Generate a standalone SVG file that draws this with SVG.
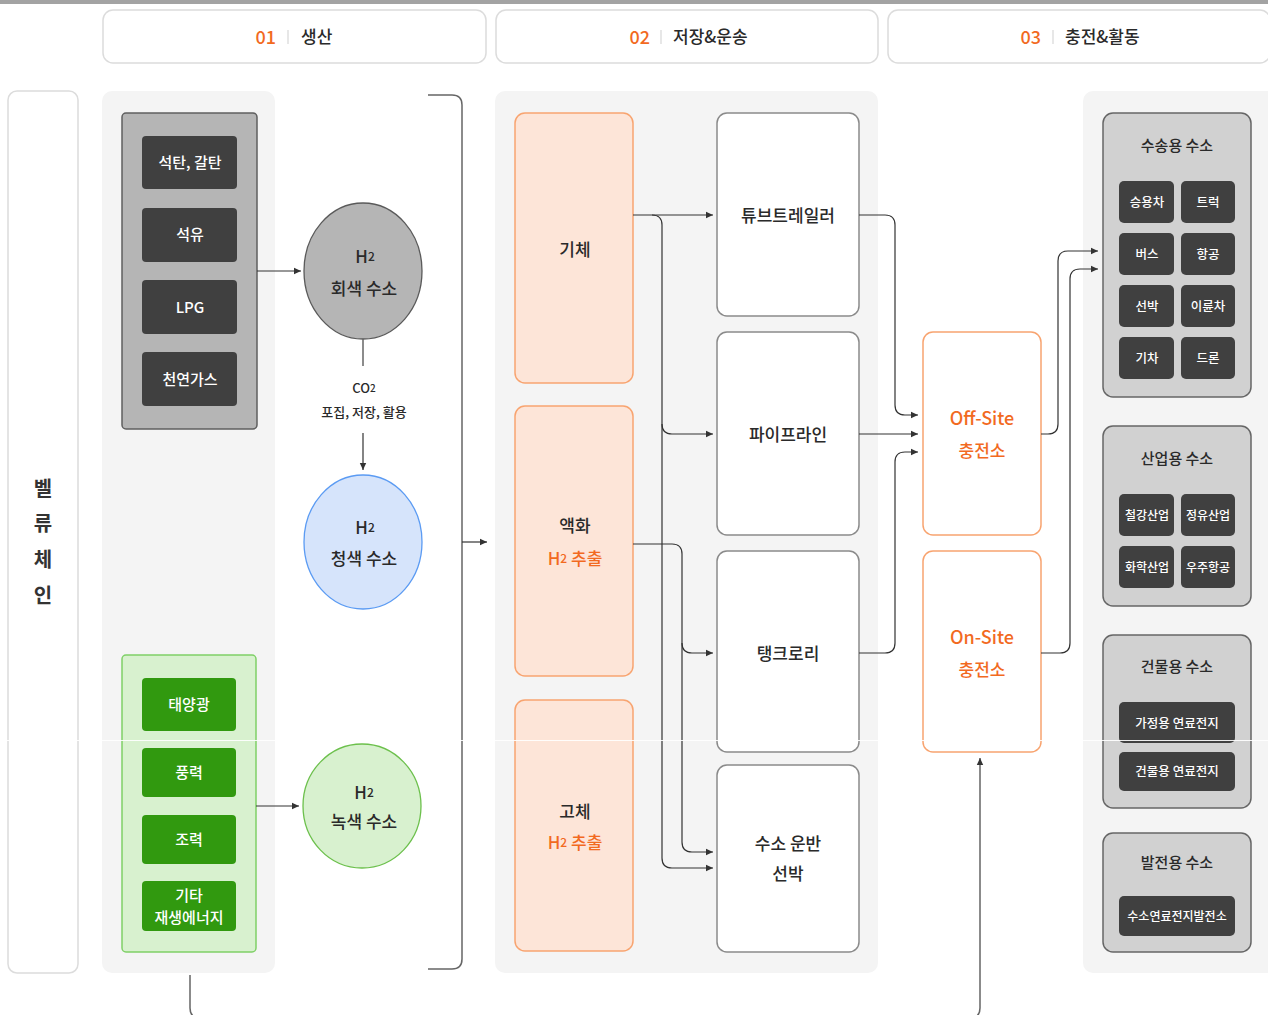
<svg xmlns="http://www.w3.org/2000/svg" width="1268" height="1015" viewBox="0 0 1268 1015">
<defs>
<marker id="ah" markerUnits="userSpaceOnUse" markerWidth="8" markerHeight="8" refX="7" refY="4" orient="auto">
<path d="M0,0.8 L7,4 L0,7.2 z" fill="#333"/>
</marker>
<style>
text{font-family:"Noto Sans CJK KR","Noto Sans",sans-serif;dominant-baseline:central;text-anchor:middle;fill:#2a2a2a;font-weight:500}
.hdr{fill:#fff;stroke:#dcdcdc;stroke-width:1.5}
.panel{fill:#f4f4f4}
.num{fill:#f26a1f;font-size:18px;font-weight:500}
.ht{font-size:17px}
.sep{stroke:#cfcfcf;stroke-width:1}
.fossil{fill:#b5b5b5;stroke:#5f5f5f;stroke-width:1.5}
.dark{fill:#404040}
.wt{fill:#fff;font-size:15px}
.grn{fill:#d8f1cf;stroke:#7fd067;stroke-width:1.5}
.gbox{fill:#31990f}
.org{fill:#fde5d8;stroke:#f8a470;stroke-width:1.5}
.wbox{fill:#fff;stroke:#8a8a8a;stroke-width:1.5}
.site{fill:#fff;stroke:#f8a470;stroke-width:1.5}
.ot{fill:#f26a1f}
.nt{font-size:17px}
.use{fill:#d1d1d1;stroke:#666;stroke-width:1.5}
.st{font-size:12.5px;fill:#fff}
.conn{fill:none;stroke:#333;stroke-width:1.2}
.conn2{fill:none;stroke:#666;stroke-width:1.5}
</style>
</defs>
<rect x="0" y="0" width="1268" height="1015" fill="#fff"/>
<rect x="0" y="0" width="1268" height="4" fill="#a3a3a3"/>

<g id="header-01">
<rect class="hdr" x="103" y="10" width="383" height="53" rx="10"/>
<text class="num" x="276" y="36" style="text-anchor:end">01</text>
<line class="sep" x1="288" y1="30" x2="288" y2="44"/>
<text class="ht" x="301" y="35" style="text-anchor:start">생산</text>
</g>
<g id="header-02">
<rect class="hdr" x="496" y="10" width="382" height="53" rx="10"/>
<text class="num" x="650" y="36" style="text-anchor:end">02</text>
<line class="sep" x1="661" y1="30" x2="661" y2="44"/>
<text class="ht" x="673" y="35" style="text-anchor:start">저장&amp;운송</text>
</g>
<g id="header-03">
<rect class="hdr" x="888" y="10" width="382" height="53" rx="10"/>
<text class="num" x="1041" y="36" style="text-anchor:end">03</text>
<line class="sep" x1="1053" y1="30" x2="1053" y2="44"/>
<text class="ht" x="1065" y="35" style="text-anchor:start">충전&amp;활동</text>
</g>

<g id="valuechain">
<rect class="hdr" x="8" y="91" width="70" height="882" rx="9"/>
<text x="43" y="487" style="font-size:20px;font-weight:bold;fill:#333">벨</text>
<text x="43" y="522" style="font-size:20px;font-weight:bold;fill:#333">류</text>
<text x="43" y="558" style="font-size:20px;font-weight:bold;fill:#333">체</text>
<text x="43" y="594" style="font-size:20px;font-weight:bold;fill:#333">인</text>
</g>

<rect class="panel" x="102" y="91" width="173" height="882" rx="10"/>
<rect class="panel" x="495" y="91" width="383" height="882" rx="10"/>
<rect class="panel" x="1083" y="91" width="195" height="882" rx="10"/>

<g id="fossil">
<rect class="fossil" x="122" y="113" width="135" height="316" rx="4"/>
<rect class="dark" x="142" y="136" width="95" height="53" rx="4"/>
<text class="wt" x="190" y="161">석탄, 갈탄</text>
<rect class="dark" x="142" y="208" width="95" height="54" rx="4"/>
<text class="wt" x="190" y="233">석유</text>
<rect class="dark" x="142" y="280" width="95" height="54" rx="4"/>
<text class="wt" x="190" y="306">LPG</text>
<rect class="dark" x="142" y="352" width="95" height="54" rx="4"/>
<text class="wt" x="190" y="378">천연가스</text>
</g>

<g id="renewable">
<rect class="grn" x="122" y="655" width="134" height="297" rx="4"/>
<rect class="gbox" x="142" y="678" width="94" height="53" rx="4"/>
<text class="wt" x="189" y="703">태양광</text>
<rect class="gbox" x="142" y="748" width="94" height="49" rx="4"/>
<text class="wt" x="189" y="771">풍력</text>
<rect class="gbox" x="142" y="815" width="94" height="49" rx="4"/>
<text class="wt" x="189" y="838">조력</text>
<rect class="gbox" x="142" y="881" width="94" height="50" rx="4"/>
<text class="wt" x="189" y="894">기타</text>
<text class="wt" x="189" y="916">재생에너지</text>
</g>

<g id="gray-h2">
<ellipse cx="363" cy="271" rx="59" ry="68" fill="#b5b5b5" stroke="#5a5a5a" stroke-width="1.3"/>
<text class="nt" x="365" y="255">H<tspan style="font-size:12px">2</tspan></text>
<text class="nt" x="364" y="287">회색 수소</text>
</g>
<g id="co2">
<text x="364" y="387" style="font-size:13px">CO<tspan style="font-size:10px">2</tspan></text>
<text x="364" y="411" style="font-size:13px">포집, 저장, 활용</text>
</g>
<g id="blue-h2">
<ellipse cx="363" cy="542" rx="59" ry="67" fill="#d6e4fb" stroke="#5b9bf3" stroke-width="1.3"/>
<text class="nt" x="365" y="526">H<tspan style="font-size:12px">2</tspan></text>
<text class="nt" x="364" y="557">청색 수소</text>
</g>
<g id="green-h2">
<ellipse cx="362" cy="806" rx="59" ry="62" fill="#d8f1cf" stroke="#6cc04c" stroke-width="1.3"/>
<text class="nt" x="364" y="791">H<tspan style="font-size:12px">2</tspan></text>
<text class="nt" x="364" y="820">녹색 수소</text>
</g>

<g id="gas">
<rect class="org" x="515" y="113" width="118" height="270" rx="10"/>
<text class="nt" x="575" y="248">기체</text>
</g>
<g id="liquid">
<rect class="org" x="515" y="406" width="118" height="270" rx="10"/>
<text class="nt" x="575" y="524">액화</text>
<text class="nt ot" x="575" y="557">H<tspan style="font-size:12px">2</tspan> 추출</text>
</g>
<g id="solid">
<rect class="org" x="515" y="700" width="118" height="251" rx="10"/>
<text class="nt" x="575" y="810">고체</text>
<text class="nt ot" x="575" y="841">H<tspan style="font-size:12px">2</tspan> 추출</text>
</g>

<g id="tube-trailer">
<rect class="wbox" x="717" y="113" width="142" height="203" rx="10"/>
<text class="nt" x="788" y="214">튜브트레일러</text>
</g>
<g id="pipeline">
<rect class="wbox" x="717" y="332" width="142" height="203" rx="10"/>
<text class="nt" x="788" y="433">파이프라인</text>
</g>
<g id="tank-lorry">
<rect class="wbox" x="717" y="551" width="142" height="201" rx="10"/>
<text class="nt" x="788" y="652">탱크로리</text>
</g>
<g id="ship">
<rect class="wbox" x="717" y="765" width="142" height="187" rx="10"/>
<text class="nt" x="788" y="842">수소 운반</text>
<text class="nt" x="788" y="872">선박</text>
</g>

<g id="offsite">
<rect class="site" x="923" y="332" width="118" height="203" rx="10"/>
<text class="ot" x="982" y="417" style="font-size:18px">Off-Site</text>
<text class="ot" x="982" y="449" style="font-size:17px">충전소</text>
</g>
<g id="onsite">
<rect class="site" x="923" y="551" width="118" height="201" rx="10"/>
<text class="ot" x="982" y="636" style="font-size:18px">On-Site</text>
<text class="ot" x="982" y="668" style="font-size:17px">충전소</text>
</g>

<g id="transport-use">
<rect class="use" x="1103" y="113" width="148" height="284" rx="10"/>
<text x="1177" y="144" style="font-size:15px">수송용 수소</text>
<rect class="dark" x="1119" y="181" width="55" height="42" rx="5"/><text class="st" x="1147" y="201">승용차</text>
<rect class="dark" x="1181" y="181" width="54" height="42" rx="5"/><text class="st" x="1208" y="201">트럭</text>
<rect class="dark" x="1119" y="233" width="55" height="42" rx="5"/><text class="st" x="1147" y="253">버스</text>
<rect class="dark" x="1181" y="233" width="54" height="42" rx="5"/><text class="st" x="1208" y="253">항공</text>
<rect class="dark" x="1119" y="285" width="55" height="42" rx="5"/><text class="st" x="1147" y="305">선박</text>
<rect class="dark" x="1181" y="285" width="54" height="42" rx="5"/><text class="st" x="1208" y="305">이륜차</text>
<rect class="dark" x="1119" y="337" width="55" height="42" rx="5"/><text class="st" x="1147" y="357">기차</text>
<rect class="dark" x="1181" y="337" width="54" height="42" rx="5"/><text class="st" x="1208" y="357">드론</text>
</g>
<g id="industry-use">
<rect class="use" x="1103" y="426" width="148" height="180" rx="10"/>
<text x="1177" y="457" style="font-size:15px">산업용 수소</text>
<rect class="dark" x="1119" y="494" width="55" height="42" rx="5"/><text class="st" x="1147" y="514" style="font-size:12px">철강산업</text>
<rect class="dark" x="1181" y="494" width="54" height="42" rx="5"/><text class="st" x="1208" y="514" style="font-size:12px">정유산업</text>
<rect class="dark" x="1119" y="546" width="55" height="42" rx="5"/><text class="st" x="1147" y="566" style="font-size:12px">화학산업</text>
<rect class="dark" x="1181" y="546" width="54" height="42" rx="5"/><text class="st" x="1208" y="566" style="font-size:12px">우주항공</text>
</g>
<g id="building-use">
<rect class="use" x="1103" y="635" width="148" height="173" rx="10"/>
<text x="1177" y="665" style="font-size:15px">건물용 수소</text>
<rect class="dark" x="1119" y="702" width="116" height="41" rx="5"/><text class="st" x="1177" y="722">가정용 연료전지</text>
<rect class="dark" x="1119" y="752" width="116" height="39" rx="5"/><text class="st" x="1177" y="770">건물용 연료전지</text>
</g>
<g id="power-use">
<rect class="use" x="1103" y="833" width="148" height="119" rx="10"/>
<text x="1177" y="861" style="font-size:15px">발전용 수소</text>
<rect class="dark" x="1119" y="896" width="116" height="40" rx="5"/><text class="st" x="1177" y="915" style="font-size:12px">수소연료전지발전소</text>
</g>

<g id="connectors">
<path class="conn" d="M257,271 H301" marker-end="url(#ah)"/>
<path class="conn2" d="M363,339 V366"/>
<path class="conn" d="M363,433 V470" marker-end="url(#ah)"/>
<path class="conn" d="M256,806 H299" marker-end="url(#ah)"/>
<path class="conn2" d="M428,95 H452 Q462,95 462,105 V959 Q462,969 452,969 H428"/>
<path class="conn" d="M462,542 H487" marker-end="url(#ah)"/>
<path class="conn2" d="M190,975 V1008 Q190,1018 200,1018 H970 Q980,1018 980,1008 V758" marker-end="url(#ah)"/>

<path class="conn" d="M633,215 H713" marker-end="url(#ah)"/>
<path class="conn" d="M652,215 Q662,215 662,225 V424 Q662,434 672,434 H713" marker-end="url(#ah)"/>
<path class="conn" d="M662,424 V858 Q662,868 672,868 H713" marker-end="url(#ah)"/>
<path class="conn" d="M633,544 H672 Q682,544 682,554 V643 Q682,653 692,653 H713" marker-end="url(#ah)"/>
<path class="conn" d="M682,643 V842 Q682,852 692,852 H713" marker-end="url(#ah)"/>

<path class="conn" d="M859,215 H885 Q895,215 895,225 V405 Q895,415 905,415 H918" marker-end="url(#ah)"/>
<path class="conn" d="M859,434 H918" marker-end="url(#ah)"/>
<path class="conn" d="M859,653 H885 Q895,653 895,643 V462 Q895,452 905,452 H918" marker-end="url(#ah)"/>
<path class="conn" d="M1041,434 H1048 Q1058,434 1058,424 V261 Q1058,251 1068,251 H1098" marker-end="url(#ah)"/>
<path class="conn" d="M1041,653 H1060 Q1070,653 1070,643 V279 Q1070,269 1080,269 H1098" marker-end="url(#ah)"/>
</g>

<rect x="0" y="740" width="1268" height="1" fill="#fff" opacity="0.9"/>
</svg>
